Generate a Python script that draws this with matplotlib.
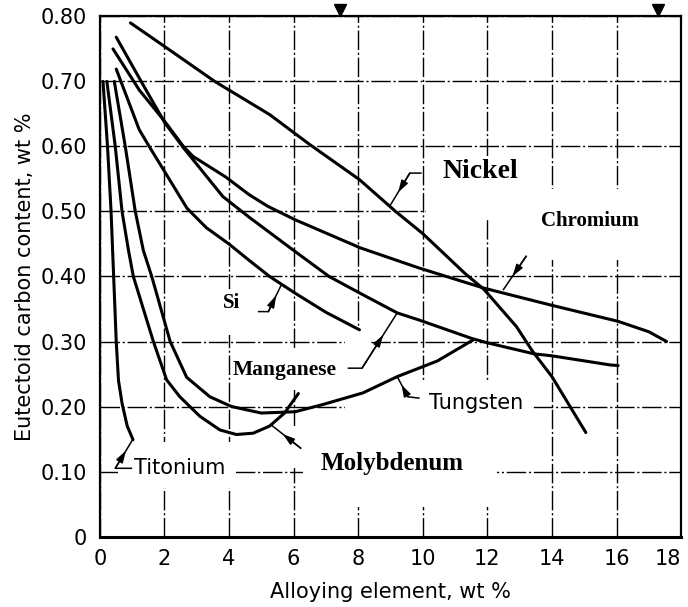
import matplotlib
matplotlib.use("Agg")
import matplotlib.pyplot as plt
from matplotlib.patches import Rectangle

# Curves (alloying element wt %, eutectoid carbon wt %)
nickel_x = [0.95, 2.0, 3.56, 5.26, 6.5, 8.04, 9.16, 10.0, 11.3, 11.9, 12.9, 13.4, 14.0, 14.5, 15.05]
nickel_y = [0.79, 0.754, 0.70, 0.649, 0.603, 0.549, 0.50, 0.466, 0.405, 0.38, 0.323, 0.285, 0.246, 0.205, 0.16]

chromium_x = [0.41, 1.22, 2.02, 2.59, 2.88, 3.9, 4.62, 5.2, 6.06, 8.07, 9.89, 11.9, 13.97, 16.05, 17.0, 17.55]
chromium_y = [0.75, 0.687, 0.638, 0.60, 0.585, 0.553, 0.526, 0.508, 0.487, 0.444, 0.413, 0.382, 0.356, 0.331, 0.315, 0.30]

manganese_x = [0.51, 1.43, 2.02, 2.59, 3.81, 4.63, 6.06, 7.1, 8.07, 9.21, 9.89, 11.5, 12.0, 13.45, 14.0, 15.8, 16.05]
manganese_y = [0.768, 0.687, 0.636, 0.598, 0.523, 0.491, 0.438, 0.40, 0.374, 0.344, 0.333, 0.305, 0.298, 0.281, 0.278, 0.264, 0.263]

si_x = [0.51, 1.22, 1.53, 2.0, 2.7, 3.3, 4.0, 4.62, 5.26, 6.06, 7.0, 8.04]
si_y = [0.719, 0.626, 0.60, 0.562, 0.505, 0.475, 0.45, 0.425, 0.40, 0.374, 0.345, 0.318]

titanium_x = [0.1, 0.24, 0.35, 0.43, 0.51, 0.58, 0.69, 0.85, 1.03]
titanium_y = [0.70, 0.60, 0.50, 0.40, 0.30, 0.24, 0.205, 0.17, 0.149]

molybdenum_x = [0.22, 0.48, 0.69, 0.89, 1.04, 1.66, 2.07, 2.48, 3.1, 3.72, 4.23, 4.75, 5.26, 5.72, 6.15]
molybdenum_y = [0.70, 0.60, 0.50, 0.44, 0.40, 0.30, 0.241, 0.215, 0.185, 0.164, 0.157, 0.159, 0.17, 0.19, 0.22]

tungsten_x = [0.45, 0.79, 1.1, 1.35, 1.61, 2.18, 2.69, 3.41, 4.08, 5.0, 6.05, 6.9, 8.15, 9.21, 10.45, 11.58]
tungsten_y = [0.70, 0.60, 0.50, 0.44, 0.40, 0.30, 0.245, 0.215, 0.20, 0.19, 0.192, 0.203, 0.221, 0.246, 0.27, 0.303]

x_ticks = [0, 2, 4, 6, 8, 10, 12, 14, 16, 18]
y_ticks = [0, 0.1, 0.2, 0.3, 0.4, 0.5, 0.6, 0.7, 0.8]
y_tick_labels = ["0", "0.10", "0.20", "0.30", "0.40", "0.50", "0.60", "0.70", "0.80"]

fig = plt.figure(figsize=(6.88, 6.07), dpi=100)
ax = fig.add_axes([0.145, 0.116, 0.845, 0.857])

serif = "Liberation Serif"
sans = "DejaVu Sans"

# grid, dash-dot like the scan
ax.set_axisbelow(True)
ax.grid(True, color="black", linewidth=1.0, linestyle=(0, (14, 2, 1.5, 2)))

# blank areas where the original grid is interrupted around the labels
for (x0, y0, w, h) in [(10.1, 0.49, 3.4, 0.095), (13.5, 0.425, 4.45, 0.11),
                       (3.7, 0.31, 0.8, 0.07), (4.05, 0.225, 3.45, 0.065),
                       (7.6, 0.185, 0.8, 0.133), (8.4, 0.185, 4.95, 0.052),
                       (6.3, 0.045, 6.0, 0.14), (5.8, 0.105, 0.5, 0.065),
                       (0.55, 0.075, 3.65, 0.07)]:
    ax.add_patch(Rectangle((x0, y0), w, h, facecolor="white", edgecolor="none", zorder=1))

lw = 2.2
for xs, ys in [(nickel_x, nickel_y), (chromium_x, chromium_y), (manganese_x, manganese_y),
               (si_x, si_y), (titanium_x, titanium_y), (molybdenum_x, molybdenum_y),
               (tungsten_x, tungsten_y)]:
    ax.plot(xs, ys, color="black", linewidth=lw, solid_capstyle="round", zorder=3)


def leader(points):
    px = [p[0] for p in points]
    py = [p[1] for p in points]
    ax.plot(px, py, color="black", linewidth=1.1, zorder=3)
    (xa, ya), (xb, yb) = points[-2], points[-1]
    xm, ym = xa + 0.6 * (xb - xa), ya + 0.6 * (yb - ya)
    ax.annotate("", xy=(xm, ym), xytext=(xa, ya),
                arrowprops=dict(arrowstyle="-|>,head_length=0.7,head_width=0.22",
                                color="black", lw=1.1, shrinkA=0, shrinkB=0), zorder=4)


leader([(9.94, 0.559), (9.6, 0.559), (9.0, 0.51)])
leader([(13.2, 0.431), (12.5, 0.38)])
leader([(4.92, 0.346), (5.22, 0.346), (5.62, 0.387)])
leader([(7.7, 0.259), (8.12, 0.259), (9.21, 0.344)])
leader([(9.88, 0.213), (9.54, 0.215), (9.21, 0.246)])
leader([(6.22, 0.136), (5.3, 0.172)])
leader([(0.98, 0.105), (0.48, 0.105), (1.03, 0.15)])

ax.text(11.8, 0.561, "Nickel", fontsize=20, fontweight="bold", family=serif, ha="center", va="center", zorder=5)
ax.text(15.18, 0.485, "Chromium", fontsize=15, fontweight="bold", family=serif, ha="center", va="center", zorder=5)
ax.text(4.07, 0.359, "Si", fontsize=15, fontweight="bold", family=serif, ha="center", va="center", zorder=5)
ax.text(5.72, 0.256, "Manganese", fontsize=15.5, fontweight="bold", family=serif, ha="center", va="center", zorder=5)
ax.text(9.06, 0.113, "Molybdenum", fontsize=18, fontweight="bold", family=serif, ha="center", va="center", zorder=5)
ax.text(11.64, 0.205, "Tungsten", fontsize=15, family=sans, ha="center", va="center", zorder=5)
ax.text(2.48, 0.105, "Titonium", fontsize=15, family=sans, ha="center", va="center", zorder=5)

# scan marks above the frame
ax.plot([7.45, 17.27], [0.81, 0.81], linestyle="none", marker="v", markersize=9,
        color="black", clip_on=False, zorder=5)

ax.set_xlim(0, 18)
ax.set_ylim(0, 0.80)
ax.set_xticks(x_ticks)
ax.set_xticklabels([str(t) for t in x_ticks], fontsize=15, family=sans)
ax.get_xticklabels()[-1].set_horizontalalignment("right")
ax.set_yticks(y_ticks)
ax.set_yticklabels(y_tick_labels, fontsize=15, family=sans)
ax.tick_params(length=0, pad=9)

ax.set_xlabel("Alloying element, wt %", fontsize=15, family=sans, labelpad=9)
ax.set_ylabel("Eutectoid carbon content, wt %", fontsize=15, family=sans, labelpad=4)

for side in ["left", "bottom", "right", "top"]:
    ax.spines[side].set_linewidth(1.6)
    ax.spines[side].set_color("black")
ax.spines["bottom"].set_linewidth(2.2)

fig.savefig("out.png", dpi=100)
